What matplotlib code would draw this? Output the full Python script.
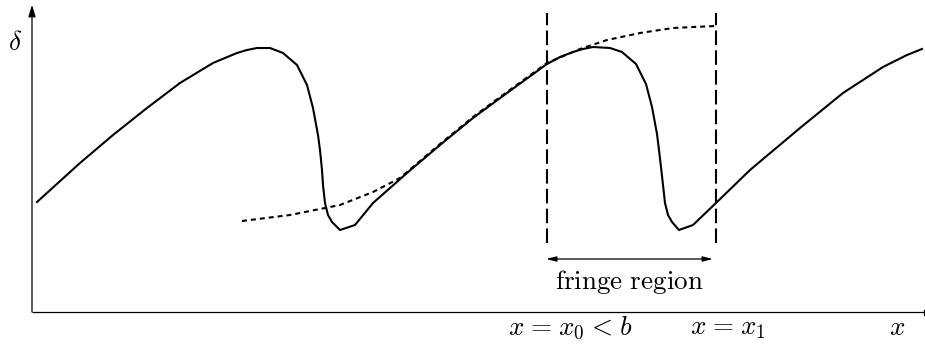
import matplotlib
matplotlib.use("Agg")
import matplotlib.pyplot as plt

plt.rcParams["mathtext.fontset"] = "cm"

# Solid profile delta(x)
solid_x = [5, 48, 81, 115, 148, 181, 205, 215, 225, 238, 251, 265, 275, 281, 286, 288,
           290, 291, 293, 296, 300, 308, 323, 341, 375, 408, 441, 475, 515, 528, 541,
           551, 561, 578, 590, 604, 614, 620, 625, 627, 629, 631, 633, 636, 640, 647,
           661, 685, 718, 768, 811, 851, 875, 890]
solid_y = [110, 149, 177, 204, 229, 249, 259, 262, 264, 264, 259, 247, 227, 204, 177, 162,
           142, 127, 109, 97, 90, 82, 87, 109, 139, 167, 194, 219, 248, 255, 260,
           263, 265, 264, 260, 248, 228, 205, 178, 162, 145, 127, 109, 97, 90, 82,
           87, 110, 142, 184, 219, 245, 257, 263]

# Dashed continuation curve
dash_x = [210, 258, 308, 341, 368, 408, 441, 475, 515, 548, 575, 608, 641, 683]
dash_y = [91, 97, 107, 120, 134, 168, 195, 220, 249, 263, 272, 279, 284, 286]

# Fringe region bounds
x0, x1 = 515, 684
line_bottom, line_top = 69, 299
arrow_y = 53

x_max, y_max = 892, 307

fig = plt.figure(figsize=(9.25, 3.47), dpi=100)
ax = fig.add_axes([0, 0, 1, 1])
ax.set_xlim(-32, 893)
ax.set_ylim(-35, 312)
ax.axis("off")

# Axes lines
ax.plot([0, x_max], [0, 0], color="black", lw=0.9, solid_capstyle="butt")
ax.plot([x_max, x_max], [-2.5, 2.5], color="black", lw=0.9)
ax.annotate("", xy=(0, y_max), xytext=(0, 0),
            arrowprops=dict(arrowstyle="-|>,head_length=0.7,head_width=0.22",
                            color="black", lw=0.9, shrinkA=0, shrinkB=0))

# Curves
ax.plot(solid_x, solid_y, color="black", lw=1.5, solid_joinstyle="round")
ax.plot(dash_x, dash_y, color="black", lw=1.5, dashes=(2.4, 1.9))

# Vertical dashed boundaries
for xv in (x0, x1):
    ax.plot([xv, xv], [line_bottom, line_top], color="black", lw=1.5, dashes=(7, 2.5))

# Double arrow across the fringe region
ax.annotate("", xy=(x0 - 1, arrow_y), xytext=(x1 - 3, arrow_y),
            arrowprops=dict(arrowstyle="<|-|>,head_length=0.6,head_width=0.15",
                            color="black", lw=0.9, shrinkA=0, shrinkB=0))

fs = 19.5
sp = r"\hspace{0.09}"
ax.text((x0 + x1) / 2 - 2, 30, r"$\mathrm{fringe\ region}$", fontsize=fs,
        ha="center", va="center")
ax.text(539, -16, rf"$x{sp}={sp}x_0{sp}<{sp}b$", fontsize=fs, ha="center", va="center")
ax.text(696, -16, rf"$x{sp}={sp}x_1$", fontsize=fs, ha="center", va="center")
ax.text(865, -16, r"$x$", fontsize=fs, ha="center", va="center")
ax.text(-17, 269, r"$\delta$", fontsize=fs, ha="center", va="center")

fig.savefig("out.png", dpi=100)
